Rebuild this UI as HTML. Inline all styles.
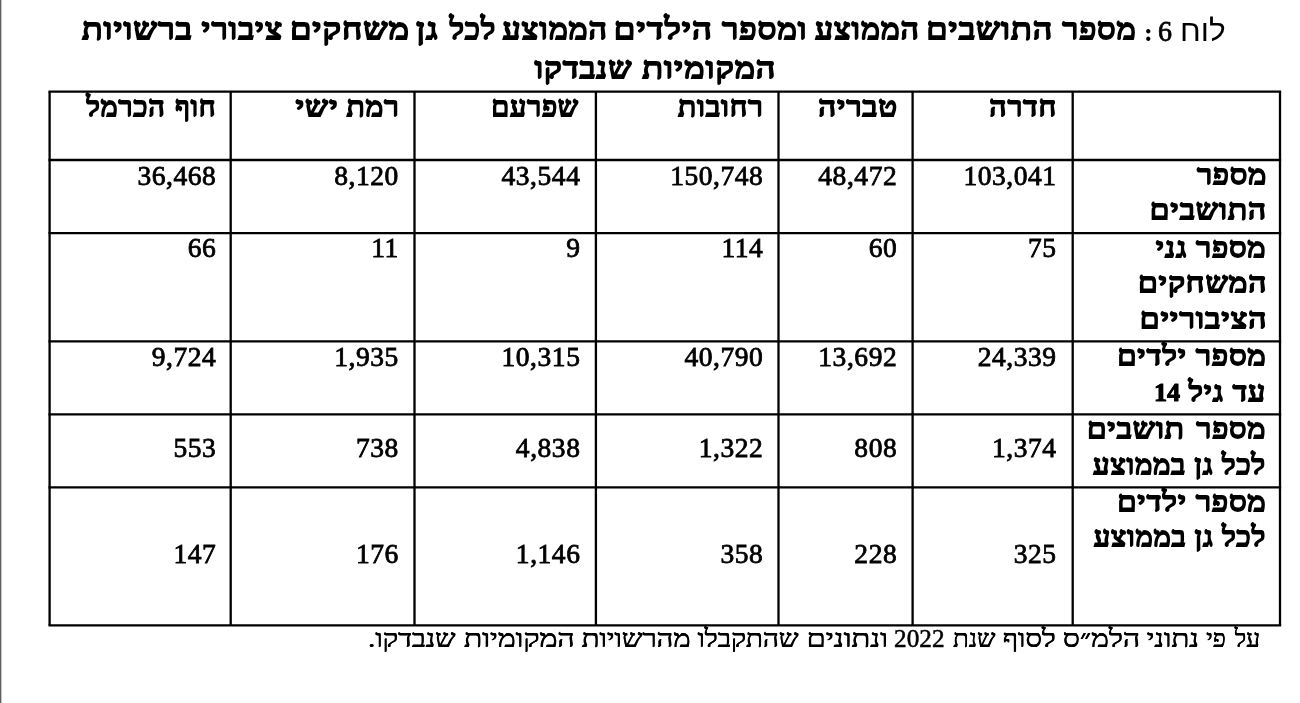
<!DOCTYPE html>
<html lang="he" dir="rtl">
<head>
<meta charset="utf-8">
<title>לוח 6</title>
<style>
html,body{margin:0;padding:0;background:#fff;}
body{width:1300px;height:703px;position:relative;overflow:hidden;color:#000;font-family:'Liberation Serif','DejaVu Serif',serif;}
.edge{position:absolute;left:0;top:0;width:1px;height:703px;background:#606060;box-shadow:1px 0 0 #c6c6c6;}
.grid{position:absolute;left:0;top:0;}
/* every text block shares the page origin as containing block; words are placed by right edge + baseline */
h1,table,p{position:absolute;left:0;top:0;width:1300px;height:703px;margin:0;padding:0;font:inherit;font-weight:normal;}
table{border-collapse:collapse;border-spacing:0;table-layout:fixed;}
th,td{padding:0;border:0;font-weight:normal;}
.t{position:absolute;display:block;white-space:nowrap;direction:rtl;text-align:right;line-height:1;font-weight:normal;transform-origin:100% 50%;}
.n,.tn,.tc,.fn{direction:ltr;}
.d{font-weight:bold;font-size:24.5px;-webkit-text-stroke:0.8px #000;letter-spacing:0;}
.tb{font-family:'Liberation Serif','DejaVu Serif',serif;font-size:29.7px;-webkit-text-stroke:2.0px #000;letter-spacing:1.3px;text-shadow:0.3px 0 0 #000,-0.3px 0 0 #000;}
.ts{font-family:'Liberation Sans','DejaVu Sans',sans-serif;font-size:29.5px;}
.tn{font-family:'Liberation Serif','DejaVu Serif',serif;font-size:29.9px;-webkit-text-stroke:0.8px #000;}
.tc{font-family:'Liberation Serif','DejaVu Serif',serif;font-size:20.0px;-webkit-text-stroke:2.0px #000;}
.hd{font-family:'Liberation Serif','DejaVu Serif',serif;font-size:27.8px;-webkit-text-stroke:1.9px #000;letter-spacing:1.2px;text-shadow:0.3px 0 0 #000,-0.3px 0 0 #000;}
.lb{font-family:'Liberation Serif','DejaVu Serif',serif;font-size:27.8px;-webkit-text-stroke:1.9px #000;letter-spacing:1.2px;text-shadow:0.3px 0 0 #000,-0.3px 0 0 #000;}
.n{font-family:'Liberation Serif','DejaVu Serif',serif;font-size:27.5px;-webkit-text-stroke:0.8px #000;letter-spacing:0.55px;}
.fn{font-family:'Liberation Serif','DejaVu Serif',serif;font-size:24.3px;-webkit-text-stroke:0.5px #000;}
.f{font-family:'Liberation Serif','DejaVu Serif',serif;font-size:25.2px;text-shadow:0.35px 0 0 #000,-0.35px 0 0 #000;}
</style>
</head>
<body>
<div class="edge"></div>
<svg class="grid" width="1300" height="703" viewBox="0 0 1300 703"><g stroke="#000" stroke-width="2.3" fill="none">
<line x1="49.60" y1="91.70" x2="49.60" y2="625.30"/>
<line x1="230.70" y1="91.70" x2="230.70" y2="625.30"/>
<line x1="414.50" y1="91.70" x2="414.50" y2="625.30"/>
<line x1="595.90" y1="91.70" x2="595.90" y2="625.30"/>
<line x1="778.50" y1="91.70" x2="778.50" y2="625.30"/>
<line x1="912.60" y1="91.70" x2="912.60" y2="625.30"/>
<line x1="1072.70" y1="91.70" x2="1072.70" y2="625.30"/>
<line x1="1280.00" y1="91.70" x2="1280.00" y2="625.30"/>
<line stroke-linecap="square" x1="49.60" y1="91.70" x2="1280.00" y2="91.70"/>
<line stroke-linecap="square" x1="49.60" y1="160.00" x2="1280.00" y2="160.00"/>
<line stroke-linecap="square" x1="49.60" y1="233.10" x2="1280.00" y2="233.10"/>
<line stroke-linecap="square" x1="49.60" y1="341.30" x2="1280.00" y2="341.30"/>
<line stroke-linecap="square" x1="49.60" y1="414.30" x2="1280.00" y2="414.30"/>
<line stroke-linecap="square" x1="49.60" y1="487.40" x2="1280.00" y2="487.40"/>
<line stroke-linecap="square" x1="49.60" y1="625.30" x2="1280.00" y2="625.30"/>
</g></svg>
<h1>
<span class="line"><span id="t1" class="t ts" style="right:74.21px;top:16px;transform:scaleX(1.0704);">לוח</span> <span id="t2" class="t tn" style="right:127.62px;top:16px;transform:scaleX(0.9366);">6</span> <span id="t3" class="t tc" style="right:149.04px;top:23px;">:</span> <span id="t4" class="t tb" style="right:163.41px;top:15px;transform:scaleX(1.0639);">מספר</span> <span id="t5" class="t tb" style="right:246.57px;top:15px;transform:scaleX(1.1182);">התושבים</span> <span id="t6" class="t tb" style="right:380.08px;top:15px;transform:scaleX(1.0479);">הממוצע</span> <span id="t7" class="t tb" style="right:492.54px;top:15px;transform:scaleX(1.0852);">ומספר</span> <span id="t8" class="t tb" style="right:586.81px;top:15px;transform:scaleX(1.1364);">הילדים</span> <span id="t9" class="t tb" style="right:691.90px;top:15px;transform:scaleX(1.0526);">הממוצע</span> <span id="t10" class="t tb" style="right:804.31px;top:15px;transform:scaleX(1.0070);">לכל</span> <span id="t11" class="t tb" style="right:860.80px;top:15px;transform:scaleX(1.1373);">גן</span> <span id="t12" class="t tb" style="right:890.17px;top:15px;transform:scaleX(1.1306);">משחקים</span> <span id="t13" class="t tb" style="right:1016.60px;top:15px;transform:scaleX(1.0814);">ציבורי</span> <span id="t14" class="t tb" style="right:1107.12px;top:15px;transform:scaleX(1.1064);">ברשויות</span></span>
<span class="line"><span id="t15" class="t tb" style="right:523.40px;top:54px;transform:scaleX(1.1202);">המקומיות</span> <span id="t16" class="t tb" style="right:667.94px;top:54px;transform:scaleX(1.0805);">שנבדקו</span></span>
</h1>
<table>
<thead>
<tr>
<th></th>
<th><span id="t17" class="t hd" style="right:242.59px;top:93px;transform:scaleX(1.0529);">חדרה</span></th>
<th><span id="t18" class="t hd" style="right:401.83px;top:93px;transform:scaleX(1.0904);">טבריה</span></th>
<th><span id="t19" class="t hd" style="right:535.93px;top:93px;transform:scaleX(1.0453);">רחובות</span></th>
<th><span id="t20" class="t hd" style="right:721.23px;top:93px;transform:scaleX(1.0052);">שפרעם</span></th>
<th><span id="t21" class="t hd" style="right:900.70px;top:93px;transform:scaleX(1.0441);">רמת</span> <span id="t22" class="t hd" style="right:961.32px;top:93px;transform:scaleX(1.1418);">ישי</span></th>
<th><span id="t23" class="t hd" style="right:1083.44px;top:93px;transform:scaleX(0.9944);">חוף</span> <span id="t24" class="t hd" style="right:1134.18px;top:93px;transform:scaleX(1.0070);">הכרמל</span></th>
</tr>
</thead>
<tbody>
<tr>
<th><span id="t25" class="t lb" style="right:33.10px;top:161px;transform:scaleX(1.0745);">מספר</span> <span id="t26" class="t lb" style="right:32.88px;top:196px;transform:scaleX(1.1028);">התושבים</span></th>
<td><span id="t32" class="t n" style="right:243.35px;top:162px;">103,041</span></td>
<td><span id="t31" class="t n" style="right:402.75px;top:162px;">48,472</span></td>
<td><span id="t30" class="t n" style="right:536.65px;top:162px;">150,748</span></td>
<td><span id="t29" class="t n" style="right:719.55px;top:162px;">43,544</span></td>
<td><span id="t28" class="t n" style="right:901.15px;top:162px;">8,120</span></td>
<td><span id="t27" class="t n" style="right:1083.65px;top:162px;">36,468</span></td>
</tr>
<tr>
<th><span id="t33" class="t lb" style="right:33.77px;top:234px;transform:scaleX(1.0776);">מספר גני</span> <span id="t34" class="t lb" style="right:32.86px;top:269px;transform:scaleX(1.1097);">המשחקים</span> <span id="t35" class="t lb" style="right:32.21px;top:305px;transform:scaleX(1.1131);">הציבוריים</span></th>
<td><span id="t41" class="t n" style="right:243.35px;top:234px;">75</span></td>
<td><span id="t40" class="t n" style="right:402.75px;top:234px;">60</span></td>
<td><span id="t39" class="t n" style="right:536.65px;top:234px;">114</span></td>
<td><span id="t38" class="t n" style="right:719.55px;top:234px;">9</span></td>
<td><span id="t37" class="t n" style="right:901.15px;top:234px;">11</span></td>
<td><span id="t36" class="t n" style="right:1083.65px;top:234px;">66</span></td>
</tr>
<tr>
<th><span id="t42" class="t lb" style="right:33.31px;top:342px;transform:scaleX(1.0837);">מספר ילדים</span> <span id="t43" class="t lb" style="right:33.16px;top:378px;transform:scaleX(1.0659);">עד גיל <b class="d">14</b></span></th>
<td><span id="t49" class="t n" style="right:243.35px;top:343px;">24,339</span></td>
<td><span id="t48" class="t n" style="right:402.75px;top:343px;">13,692</span></td>
<td><span id="t47" class="t n" style="right:536.65px;top:343px;">40,790</span></td>
<td><span id="t46" class="t n" style="right:719.55px;top:343px;">10,315</span></td>
<td><span id="t45" class="t n" style="right:901.15px;top:343px;">1,935</span></td>
<td><span id="t44" class="t n" style="right:1083.65px;top:343px;">9,724</span></td>
</tr>
<tr>
<th><span id="t50" class="t lb" style="right:33.39px;top:415px;transform:scaleX(1.0686);">מספר</span> <span id="t51" class="t lb" style="right:114.65px;top:415px;transform:scaleX(1.0983);">תושבים</span> <span id="t52" class="t lb" style="right:33.66px;top:451px;transform:scaleX(1.0215);">לכל גן בממוצע</span></th>
<td><span id="t58" class="t n" style="right:243.35px;top:434px;">1,374</span></td>
<td><span id="t57" class="t n" style="right:402.75px;top:434px;">808</span></td>
<td><span id="t56" class="t n" style="right:536.65px;top:434px;">1,322</span></td>
<td><span id="t55" class="t n" style="right:719.55px;top:434px;">4,838</span></td>
<td><span id="t54" class="t n" style="right:901.15px;top:434px;">738</span></td>
<td><span id="t53" class="t n" style="right:1083.65px;top:434px;">553</span></td>
</tr>
<tr>
<th><span id="t59" class="t lb" style="right:33.31px;top:488px;transform:scaleX(1.0837);">מספר ילדים</span> <span id="t60" class="t lb" style="right:33.84px;top:523px;transform:scaleX(1.0180);">לכל גן בממוצע</span></th>
<td><span id="t66" class="t n" style="right:243.35px;top:540px;">325</span></td>
<td><span id="t65" class="t n" style="right:402.75px;top:540px;">228</span></td>
<td><span id="t64" class="t n" style="right:536.65px;top:540px;">358</span></td>
<td><span id="t63" class="t n" style="right:719.55px;top:540px;">1,146</span></td>
<td><span id="t62" class="t n" style="right:901.15px;top:540px;">176</span></td>
<td><span id="t61" class="t n" style="right:1083.65px;top:540px;">147</span></td>
</tr>
</tbody>
</table>
<p>
<span id="t67" class="t f" style="right:40.37px;top:626px;transform:scaleX(0.9701);">על</span> <span id="t68" class="t f" style="right:74.31px;top:626px;transform:scaleX(0.9889);">פי</span> <span id="t69" class="t f" style="right:101.21px;top:626px;transform:scaleX(1.1637);">נתוני</span> <span id="t70" class="t f" style="right:160.20px;top:626px;transform:scaleX(1.1869);">הלמ״ס</span> <span id="t71" class="t f" style="right:244.03px;top:626px;transform:scaleX(1.1566);">לסוף</span> <span id="t72" class="t f" style="right:304.78px;top:626px;transform:scaleX(1.0241);">שנת</span> <span id="t73" class="t fn" style="right:355.72px;top:627px;transform:scaleX(1.0389);">2022</span> <span id="t74" class="t f" style="right:411.74px;top:626px;transform:scaleX(1.2142);">ונתונים</span> <span id="t75" class="t f" style="right:501.21px;top:626px;transform:scaleX(1.1029);">שהתקבלו</span> <span id="t76" class="t f" style="right:609.93px;top:626px;transform:scaleX(1.1510);">מהרשויות</span> <span id="t77" class="t f" style="right:725.63px;top:626px;transform:scaleX(1.1955);">המקומיות</span> <span id="t78" class="t f" style="right:844.39px;top:626px;transform:scaleX(1.1424);">שנבדקו.</span>
</p>
</body>
</html>
